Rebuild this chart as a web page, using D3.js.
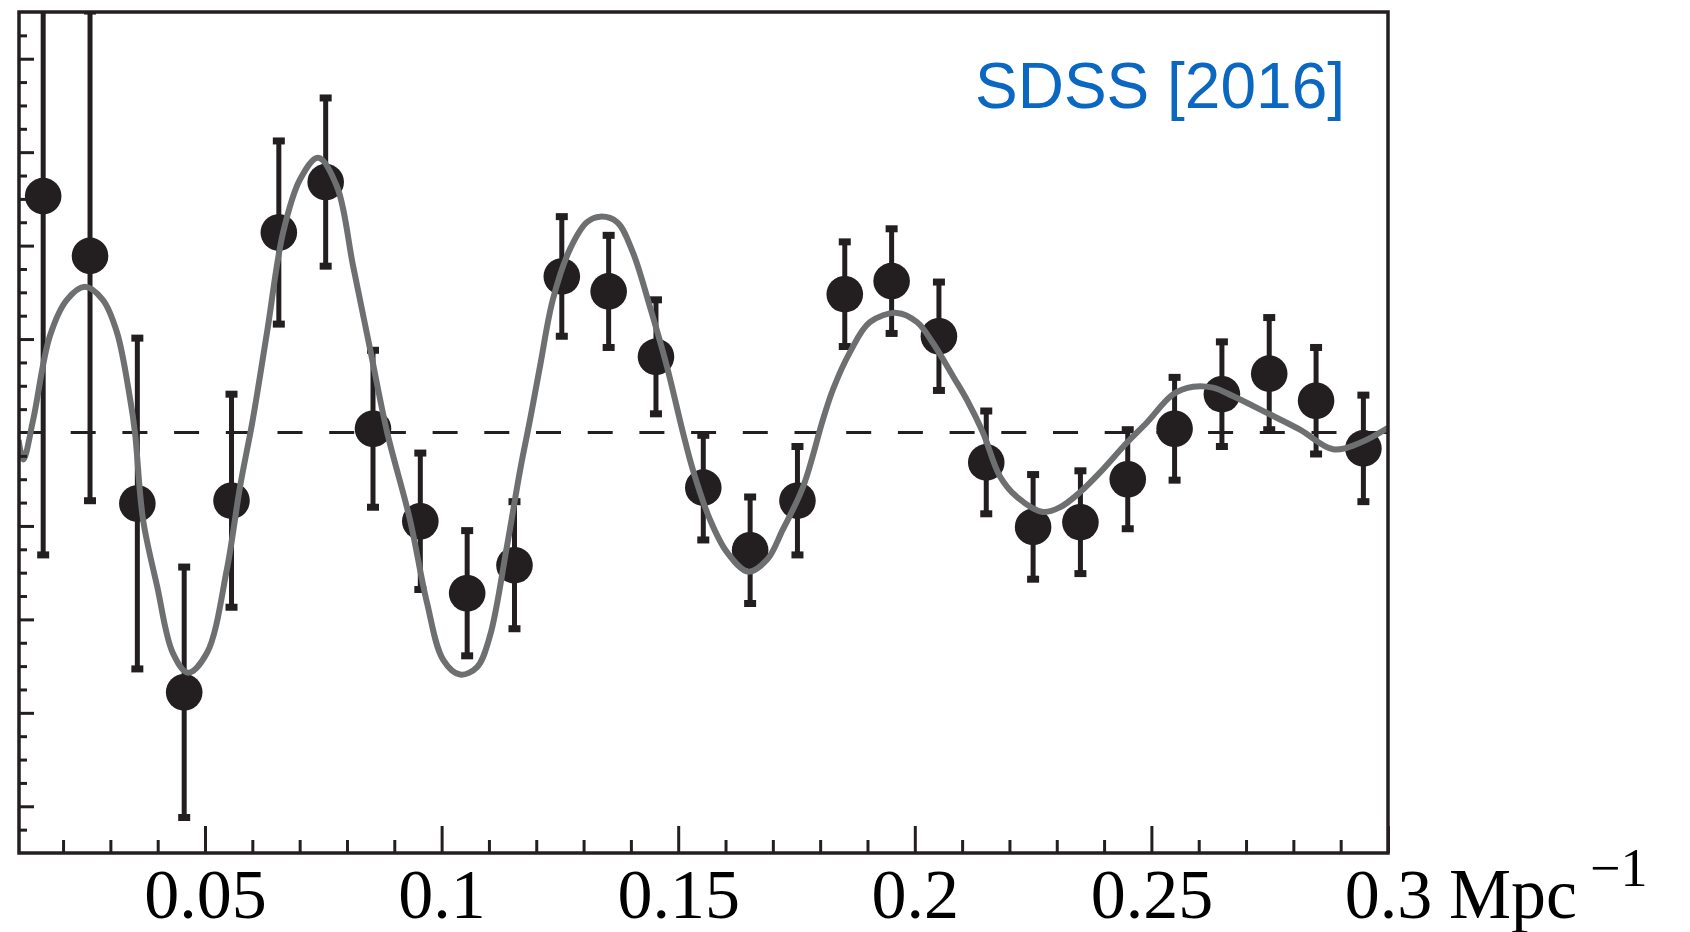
<!DOCTYPE html>
<html>
<head>
<meta charset="utf-8">
<script src="https://cdn.jsdelivr.net/npm/d3@7"></script>
<style>
  html, body { margin: 0; padding: 0; background: #ffffff; }
  svg { display: block; }
</style>
</head>
<body>
<svg id="chart" width="1690" height="932"></svg>
<script>
// Wavenumber k (Mpc^-1) of each measured bin
const kBins = [0.0158, 0.0257, 0.0357, 0.0456, 0.0556, 0.0656, 0.0755, 0.0855, 0.0955, 0.1054,
               0.1154, 0.1254, 0.1353, 0.1453, 0.1553, 0.1652, 0.1752, 0.1852, 0.1951, 0.2051,
               0.2151, 0.2250, 0.2350, 0.2450, 0.2549, 0.2649, 0.2749, 0.2848, 0.2948];
// Measured oscillation amplitude in each bin
const measured = [0.253, 0.189, -0.076, -0.278, -0.073, 0.214, 0.268, 0.004, -0.095, -0.172,
                  -0.142, 0.167, 0.151, 0.081, -0.059, -0.126, -0.073, 0.148, 0.162, 0.103,
                  -0.032, -0.101, -0.096, -0.050, 0.004, 0.041, 0.063, 0.034, -0.017];
// One-sigma uncertainty of each bin
const sigma = [0.384, 0.262, 0.177, 0.134, 0.114, 0.098, 0.090, 0.084, 0.073, 0.067,
               0.068, 0.064, 0.060, 0.061, 0.056, 0.057, 0.058, 0.056, 0.056, 0.058,
               0.055, 0.056, 0.055, 0.053, 0.055, 0.056, 0.060, 0.057, 0.057];

// Model curve: k values and amplitude
const modelK = [0.0106, 0.0116, 0.0137, 0.0172, 0.0208, 0.0246, 0.0284, 0.0314, 0.0342, 0.0352,
                0.0369, 0.0399, 0.0432, 0.0464, 0.0504, 0.0546, 0.0574, 0.0601, 0.0631, 0.0665,
                0.0701, 0.0739, 0.0779, 0.0813, 0.0849, 0.0885, 0.0933, 0.0969, 0.1003, 0.1039,
                0.1075, 0.1102, 0.1138, 0.1166, 0.1187, 0.1208, 0.1235, 0.1271, 0.1307, 0.1335,
                0.1371, 0.1404, 0.1440, 0.1476, 0.1510, 0.1531, 0.1567, 0.1603, 0.1648, 0.1688,
                0.1721, 0.1764, 0.1806, 0.1827, 0.1863, 0.1905, 0.1962, 0.2005, 0.2038, 0.2081,
                0.2110, 0.2144, 0.2180, 0.2216, 0.2271, 0.2307, 0.2349, 0.2391, 0.2448, 0.2491,
                0.2546, 0.2588, 0.2630, 0.2672, 0.2744, 0.2814, 0.2884, 0.2941, 0.3000];
const modelAmp = [-0.008, -0.029, 0.014, 0.103, 0.142, 0.156, 0.142, 0.107, 0.035, 0.000,
                  -0.093, -0.165, -0.236, -0.257, -0.236, -0.147, -0.058, 0.014, 0.107, 0.214,
                  0.271, 0.294, 0.263, 0.178, 0.089, 0.000, -0.093, -0.182, -0.243, -0.259,
                  -0.251, -0.218, -0.122, -0.040, 0.014, 0.071, 0.142, 0.196, 0.225, 0.231,
                  0.225, 0.193, 0.135, 0.071, 0.000, -0.040, -0.093, -0.128, -0.149, -0.136,
                  -0.104, -0.058, 0.014, 0.046, 0.086, 0.118, 0.128, 0.118, 0.096, 0.060,
                  0.035, 0.000, -0.047, -0.069, -0.085, -0.080, -0.064, -0.043, -0.011, 0.011,
                  0.041, 0.049, 0.048, 0.039, 0.021, 0.003, -0.018, -0.011, 0.005];

// Axis ticks
const xMajorTicks = [0.05, 0.1, 0.15, 0.2, 0.25, 0.3];
const xTickLabels = ["0.05", "0.1", "0.15", "0.2", "0.25", "0.3"];
const xMinorTicks = d3.range(2, 30).map(i => i / 100).filter(v => Math.round(v * 100) % 5 !== 0);
const yMajorTicks = [-0.4, -0.3, -0.2, -0.1, 0.1, 0.2, 0.3, 0.4];
const yMinorTicks = d3.range(-17, 18).map(i => i * 0.025).filter(v => Math.abs(Math.round(v * 40)) % 4 !== 0);

const unitLabel = "Mpc";
const unitExponent = "\u22121";
const datasetLabel = "SDSS [2016]";

// Layout
const plot = { left: 19, top: 12, right: 1388, bottom: 853 };
const ink = "#231f20";
const serif = "'Liberation Serif', 'DejaVu Serif', serif";

const svg = d3.select("#chart");

const x = d3.scaleLinear().domain([0.01069, 0.3]).range([plot.left, plot.right]);
const y = d3.scaleLinear().domain([-0.45, 0.45]).range([plot.bottom, plot.top]);

svg.append("defs").append("clipPath").attr("id", "plot-clip")
  .append("rect")
  .attr("x", plot.left).attr("y", plot.top)
  .attr("width", plot.right - plot.left).attr("height", plot.bottom - plot.top);

// Zero reference line
svg.append("line")
  .attr("x1", plot.left).attr("x2", plot.right)
  .attr("y1", y(0)).attr("y2", y(0))
  .attr("stroke", ink).attr("stroke-width", 3)
  .attr("stroke-dasharray", "25,26.7");

const dataLayer = svg.append("g").attr("clip-path", "url(#plot-clip)");

const points = kBins.map((k, i) => ({ k, v: measured[i], e: sigma[i] }));

// Error bars with caps
const bars = dataLayer.append("g").selectAll("g").data(points).join("g");
bars.append("line")
  .attr("x1", d => x(d.k)).attr("x2", d => x(d.k))
  .attr("y1", d => y(d.v + d.e)).attr("y2", d => y(d.v - d.e))
  .attr("stroke", ink).attr("stroke-width", 5);
bars.append("line")
  .attr("x1", d => x(d.k) - 6).attr("x2", d => x(d.k) + 6)
  .attr("y1", d => y(d.v + d.e)).attr("y2", d => y(d.v + d.e))
  .attr("stroke", ink).attr("stroke-width", 7);
bars.append("line")
  .attr("x1", d => x(d.k) - 6).attr("x2", d => x(d.k) + 6)
  .attr("y1", d => y(d.v - d.e)).attr("y2", d => y(d.v - d.e))
  .attr("stroke", ink).attr("stroke-width", 7);

// Markers
dataLayer.append("g").selectAll("circle").data(points).join("circle")
  .attr("cx", d => x(d.k)).attr("cy", d => y(d.v))
  .attr("r", 18.3).attr("fill", ink);

// Model curve
const model = modelK.map((k, i) => ({ k, v: modelAmp[i] }));
dataLayer.append("path")
  .datum(model)
  .attr("fill", "none")
  .attr("stroke", "#6e6f71")
  .attr("stroke-width", 6)
  .attr("stroke-linejoin", "round")
  .attr("d", d3.line().x(d => x(d.k)).y(d => y(d.v)).curve(d3.curveCatmullRom.alpha(0.5)));

// Ticks (pointing inward)
const tickStyle = g => {
  g.select(".domain").remove();
  g.selectAll(".tick line").attr("stroke", ink).attr("stroke-width", 3);
};

svg.append("g")
  .attr("transform", `translate(0,${plot.bottom})`)
  .call(d3.axisBottom(x).tickValues(xMinorTicks).tickSize(-13).tickFormat(""))
  .call(tickStyle);

const xMajor = svg.append("g")
  .attr("transform", `translate(0,${plot.bottom})`)
  .call(d3.axisBottom(x).tickValues(xMajorTicks).tickSize(-27)
        .tickFormat((d, i) => xTickLabels[i]))
  .call(tickStyle);
xMajor.selectAll(".tick text")
  .attr("dy", null).attr("y", 65)
  .attr("fill", "#000")
  .style("font-family", serif)
  .style("font-size", "70px");

svg.append("g")
  .attr("transform", `translate(${plot.left},0)`)
  .call(d3.axisLeft(y).tickValues(yMinorTicks).tickSize(-8).tickFormat(""))
  .call(tickStyle);
svg.append("g")
  .attr("transform", `translate(${plot.left},0)`)
  .call(d3.axisLeft(y).tickValues(yMajorTicks).tickSize(-15).tickFormat(""))
  .call(tickStyle);

// Frame
svg.append("rect")
  .attr("x", plot.left).attr("y", plot.top)
  .attr("width", plot.right - plot.left).attr("height", plot.bottom - plot.top)
  .attr("fill", "none").attr("stroke", ink).attr("stroke-width", 3.5);

// Unit after the last tick label
svg.append("text")
  .attr("x", 1449).attr("y", 918)
  .attr("fill", "#000")
  .attr("textLength", 128)
  .attr("lengthAdjust", "spacingAndGlyphs")
  .style("font-family", serif)
  .style("font-size", "72px")
  .text(unitLabel);
svg.append("text")
  .attr("x", 1590).attr("y", 886)
  .attr("fill", "#000")
  .style("font-family", serif)
  .style("font-size", "54px")
  .text(unitExponent);

// Dataset label
svg.append("text")
  .attr("x", 1345).attr("y", 108)
  .attr("text-anchor", "end")
  .attr("fill", "#0a67c2")
  .style("font-family", "'Liberation Sans', Arial, sans-serif")
  .style("font-size", "64px")
  .text(datasetLabel);
</script>
</body>
</html>
